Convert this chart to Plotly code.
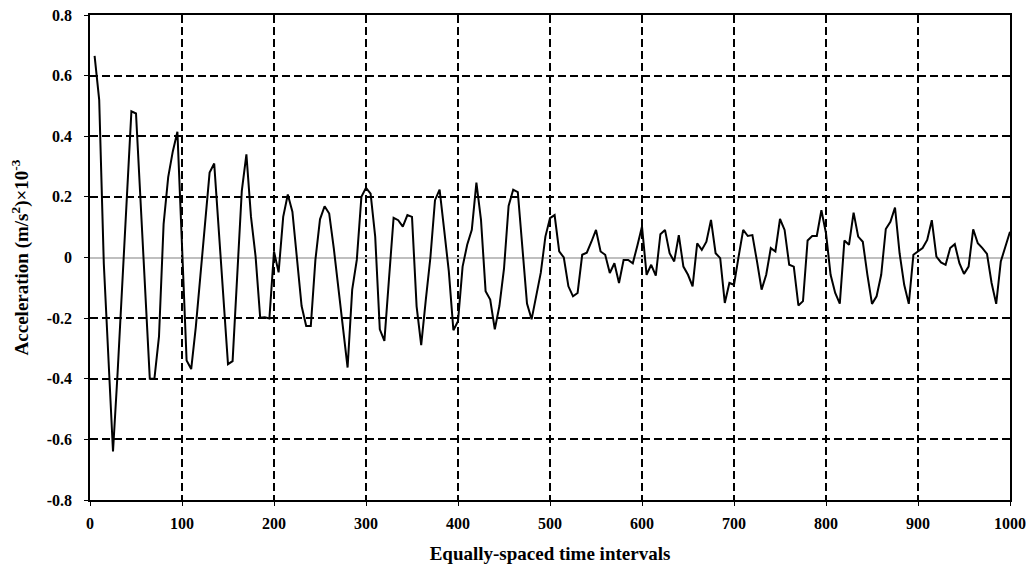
import plotly.graph_objects as go

# time index (every 5 intervals) and measured acceleration (x10^-3 m/s^2)
time_steps = list(range(5, 1001, 5))
accel = [
    0.665, 0.52, -0.02, -0.33, -0.64, -0.38, -0.10, 0.17, 0.482, 0.475,
    0.18, -0.11, -0.40, -0.40, -0.26, 0.11, 0.265, 0.35, 0.415, 0.04,
    -0.34, -0.368, -0.23, -0.06, 0.12, 0.28, 0.31, 0.09, -0.13, -0.352,
    -0.342, -0.05, 0.22, 0.34, 0.134, 0.003, -0.199, -0.197, -0.201, 0.02,
    -0.049, 0.134, 0.208, 0.151, 0.0, -0.16, -0.226, -0.226, -0.008, 0.126,
    0.169, 0.145, 0.03, -0.10, -0.23, -0.363, -0.106, -0.008, 0.20, 0.23,
    0.211, 0.069, -0.237, -0.275, -0.07, 0.131, 0.123, 0.102, 0.14, 0.134,
    -0.161, -0.289, -0.14, 0.0, 0.189, 0.224, 0.09, -0.045, -0.24, -0.21,
    -0.03, 0.042, 0.091, 0.247, 0.124, -0.111, -0.139, -0.237, -0.16, -0.037,
    0.17, 0.224, 0.216, 0.03, -0.152, -0.204, -0.128, -0.05, 0.069, 0.13,
    0.14, 0.02, 0.0, -0.095, -0.128, -0.117, 0.009, 0.016, 0.052, 0.091,
    0.02, 0.009, -0.051, -0.019, -0.084, -0.008, -0.008, -0.019, 0.04, 0.102,
    -0.057, -0.024, -0.06, 0.077, 0.091, 0.014, -0.013, 0.074, -0.03, -0.057,
    -0.095, 0.047, 0.025, 0.052, 0.124, 0.014, -0.002, -0.15, -0.084, -0.09,
    0.003, 0.091, 0.071, 0.074, -0.013, -0.106, -0.057, 0.031, 0.02, 0.127,
    0.091, -0.024, -0.03, -0.158, -0.144, 0.056, 0.071, 0.071, 0.156, 0.08,
    -0.057, -0.117, -0.152, 0.056, 0.042, 0.148, 0.069, 0.052, -0.057, -0.153,
    -0.128, -0.057, 0.094, 0.118, 0.165, 0.014, -0.09, -0.153, 0.009, 0.02,
    0.031, 0.058, 0.123, 0.003, -0.016, -0.024, 0.031, 0.044, -0.019, -0.054,
    -0.03, 0.093, 0.047, 0.031, 0.012, -0.084, -0.153, -0.013, 0.036, 0.085,
]

x_ticks = list(range(0, 1001, 100))
y_ticks = [-0.8, -0.6, -0.4, -0.2, 0, 0.2, 0.4, 0.6, 0.8]
y_labels = ['-0.8', '-0.6', '-0.4', '-0.2', '0', '0.2', '0.4', '0.6', '0.8']

font = dict(family='Liberation Serif, Times New Roman, serif', size=16, color='black', weight='bold')

fig = go.Figure()
fig.add_trace(go.Scatter(x=time_steps, y=accel, mode='lines',
                         line=dict(color='black', width=2), showlegend=False))

# page body has an 8px margin, so the figure is a bit smaller than the window
fig.update_layout(
    width=1018, height=557,
    margin=dict(l=82, r=16, t=7, b=65),
    plot_bgcolor='white', paper_bgcolor='white',
    font=font,
    xaxis=dict(range=[0, 1000], tickvals=x_ticks, showgrid=True, gridcolor='black',
               griddash='8px,4px', gridwidth=1.5, zeroline=False, automargin=False,
               showline=True, mirror=True, linecolor='black', linewidth=1.5,
               ticks='outside', ticklen=4, tickcolor='black', ticklabelstandoff=4,
               ticklabeloverflow='allow',
               title=dict(text='Equally-spaced time intervals', standoff=16)),
    yaxis=dict(range=[-0.8, 0.8], tickvals=y_ticks, ticktext=y_labels, showgrid=True,
               gridcolor='black', griddash='8px,4px', gridwidth=1.5, automargin=False,
               zeroline=True, zerolinecolor='#BFBFBF', zerolinewidth=1.5,
               showline=True, mirror=True, linecolor='black', linewidth=1.5,
               ticks='outside', ticklen=4, tickcolor='black', ticklabelstandoff=9,
               ticklabeloverflow='allow',
               title=dict(text='Acceleration (m/s<sup>2</sup>)×10<sup>-3</sup>', standoff=14)),
)

fig.write_html("out.html")
